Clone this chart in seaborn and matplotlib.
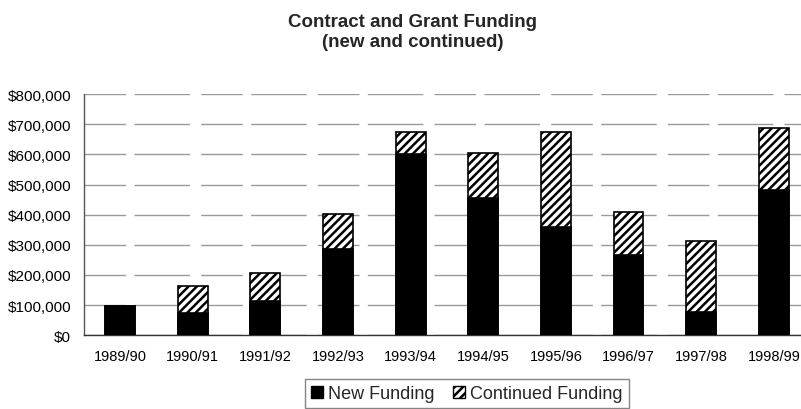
import numpy as np
import pandas as pd
import matplotlib
matplotlib.use("Agg")
import matplotlib.pyplot as plt
import seaborn as sns
from matplotlib.patches import Patch
from matplotlib.ticker import FuncFormatter, FixedLocator

years = ["1989/90", "1990/91", "1991/92", "1992/93", "1993/94",
         "1994/95", "1995/96", "1996/97", "1997/98", "1998/99"]
new_funding = [96000, 74000, 115000, 285000, 602000, 455000, 358000, 266000, 78000, 483000]
continued_funding = [0, 90000, 90000, 118000, 72000, 148000, 315000, 142000, 236000, 205000]

total = [n + c for n, c in zip(new_funding, continued_funding)]
df = pd.DataFrame({"year": years, "new": new_funding, "total": total})

sns.set_theme(style="white")
plt.rcParams["font.family"] = ["Liberation Sans", "DejaVu Sans"]
plt.rcParams["hatch.linewidth"] = 1.8

fig = plt.figure(figsize=(8.01, 4.10), dpi=100)
ax = fig.add_axes([0.1045, 0.180, 0.907, 0.588])

sns.barplot(data=df, x="year", y="total", color="white", edgecolor="black",
            hatch="////", linewidth=1.2, width=0.41, ax=ax, zorder=3)
sns.barplot(data=df, x="year", y="new", color="black", edgecolor="black",
            linewidth=1.2, width=0.41, ax=ax, zorder=4)

ax.set_ylim(0, 800000)
ax.set_xlim(-0.5, 9.5)
ax.set_yticks(np.arange(0, 800001, 100000))
ax.yaxis.set_major_formatter(FuncFormatter(lambda v, p: f"${int(v):,}"))
ax.tick_params(axis="y", labelsize=11, length=0, pad=9, colors="black")
ax.tick_params(axis="x", which="major", labelsize=10.5, length=0, pad=10, colors="black")
ax.xaxis.set_minor_locator(FixedLocator(np.arange(0.5, 9.5, 1.0)))
ax.tick_params(axis="x", which="minor", length=5, width=1, color="#333333", direction="out")
ax.set_xlabel("")
ax.set_ylabel("")

ax.grid(axis="y", color="#9a9a9a", linewidth=1.0, linestyle=(0, (30, 6, 40, 8)), zorder=0)
ax.set_axisbelow(True)
for s in ["top", "right"]:
    ax.spines[s].set_visible(False)
ax.spines["left"].set_color("#555555")
ax.spines["bottom"].set_color("#333333")
ax.spines["left"].set_linewidth(1.0)
ax.spines["bottom"].set_linewidth(1.0)

fig.text(0.515, 0.92, "Contract and Grant Funding\n(new and continued)",
         ha="center", va="center", fontsize=13.5, fontweight="bold", linespacing=1.2)

handles = [Patch(facecolor="black", edgecolor="black", label="New Funding"),
           Patch(facecolor="white", edgecolor="black", hatch="////", label="Continued Funding")]
leg = fig.legend(handles=handles, loc="center", bbox_to_anchor=(0.583, 0.038), ncol=2,
                 fontsize=13, frameon=True, fancybox=False, edgecolor="#666666",
                 handlelength=0.65, handleheight=0.65, handletextpad=0.3, columnspacing=1.0,
                 borderpad=0.35)
leg.get_frame().set_linewidth(1.0)

fig.savefig("out.png", dpi=100)
